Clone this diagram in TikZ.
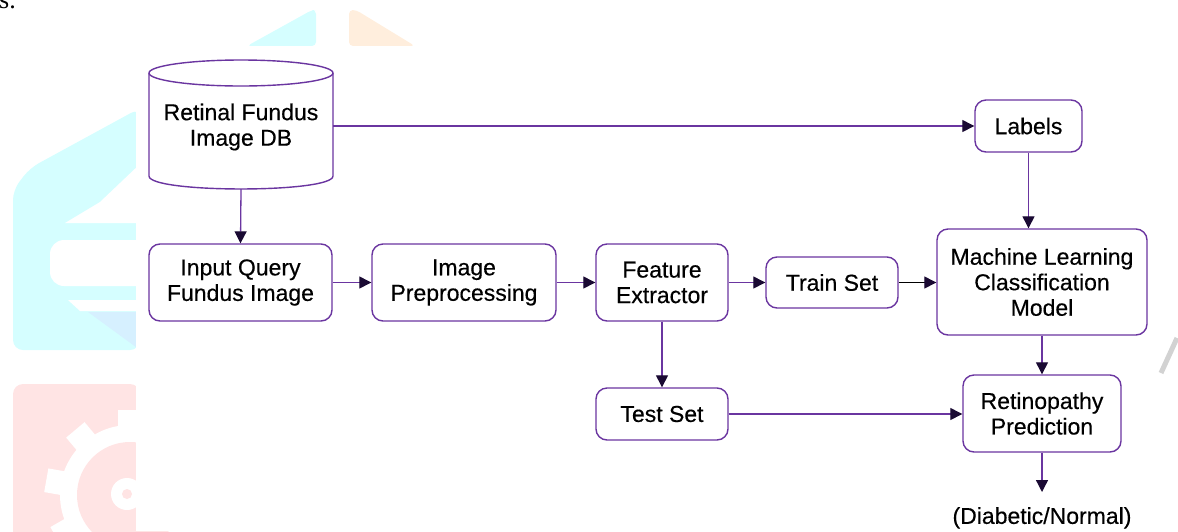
\documentclass[tikz,border=0pt]{standalone}
\usepackage{fontspec}
\setmainfont{Liberation Sans}[FakeBold=0.4]
\newfontfamily\serifface{Liberation Serif}
\usetikzlibrary{arrows.meta}
\definecolor{edgepurple}{HTML}{6A35A0}
\definecolor{tipdark}{HTML}{1A0A33}
\definecolor{wmcyan}{HTML}{D5FEFF}
\definecolor{wmblue}{HTML}{D6F0FF}
\definecolor{wmorange}{HTML}{FFEEDD}
\definecolor{wmpink}{HTML}{FFE4E4}
\begin{document}
\begin{tikzpicture}[x=1pt,y=-1pt,
  txt/.style={align=center, inner sep=0pt, font=\fontsize{23}{25.5}\selectfont},
  box/.style={txt, draw=edgepurple, line width=1.4pt, rounded corners=11pt, fill=white},
  flow/.style={draw=edgepurple, line width=1.3pt, -{Triangle[length=12pt,width=12pt,color=tipdark]}},
]
\useasboundingbox (0,0) rectangle (1178,531);

% faint logo shapes behind the page
\fill[wmcyan, rounded corners=4pt] (247,46) -- (312,10) -- (316,10) -- (316,46) -- cycle;
\fill[wmorange, rounded corners=4pt] (349,46) -- (349,10) -- (356,10) -- (415,46) -- cycle;
\fill[wmcyan, rounded corners=10pt] (13,350) -- (13,190) -- (30,168) -- (140,108) -- (140,350) -- cycle;
\fill[white] (65,223) -- (100,202) -- (140,164) -- (140,223) -- cycle;
\fill[white, rounded corners=14pt] (50,240) rectangle (170,286);
\fill[white] (68,300) -- (140,300) -- (140,311) -- (80,311) -- cycle;
\fill[wmblue] (88,312) -- (140,312) -- (140,350) -- cycle;
\fill[wmpink, rounded corners=10pt] (13,545) -- (13,384) -- (140,384) -- (140,545) -- cycle;
\fill[white] (130,495) circle[radius=70pt];
\foreach \a in {0,40,...,320}
  \fill[white, rotate around={\a:(130,495)}] (118,410) rectangle (142,440);
\fill[wmpink] (130,495) circle[radius=53pt];
\fill[white] (127,494) circle[radius=16pt];
\fill[wmpink] (127,494) circle[radius=5pt];

% page area of the figure
\fill[white] (136,46) rectangle (1178,531);
\draw[gray!35, line width=5pt] (1161,373) -- (1177,338);

% text fragment from the line above
\node[font=\serifface\fontsize{26}{26}\selectfont, anchor=base east, inner sep=0pt] (frag) at (16,8) {s.};

% database cylinder
\draw[edgepurple, line width=1.4pt, fill=white] (149,73) -- (149,176)
  .. controls (149,193.3) and (333,193.3) .. (333,176) -- (333,73);
\draw[edgepurple, line width=1.4pt, fill=white] (241,73) ellipse [x radius=92pt, y radius=13pt];
\node[txt, minimum width=184pt, minimum height=124pt] (db) at (241,127) {Retinal Fundus\\Image DB};

% process boxes
\node[box, minimum width=183pt, minimum height=77pt] (input) at (240.5,282.5) {Input Query\\Fundus Image};
\node[box, minimum width=184pt, minimum height=77pt] (prep) at (464,282.5) {Image\\Preprocessing};
\node[box, minimum width=132pt, minimum height=77pt] (feat) at (662,282.5) {Feature\\Extractor};
\node[box, minimum width=132pt, minimum height=51pt] (train) at (832,282.5) {Train Set};
\node[box, minimum width=132pt, minimum height=52pt] (test) at (662,414) {Test Set};
\node[box, minimum width=107pt, minimum height=52pt] (labels) at (1028.5,126) {Labels};
\node[box, minimum width=210pt, minimum height=106pt] (ml) at (1042,282) {Machine Learning\\Classification\\Model};
\node[box, minimum width=158pt, minimum height=77pt] (ret) at (1042,413.5) {Retinopathy\\Prediction};
\node[txt, anchor=north, inner ysep=15pt] (out) at (1042,492) {(Diabetic/Normal)};

% connectors
\draw[flow] (labels.west -| db.east) -- (labels.west);
\draw[flow] (db.south) -- (input.north);
\draw[flow] (input.east) -- (prep.west);
\draw[flow] (prep.east) -- (feat.west);
\draw[flow] (feat.east) -- (train.west);
\draw[flow, draw=black] (train.east) -- (train.east -| ml.west);
\draw[flow] (labels.south) -- (labels.south |- ml.north);
\draw[flow] (feat.south) -- (test.north);
\draw[flow] (test.east) -- (test.east -| ret.west);
\draw[flow] (ml.south) -- (ret.north);
\draw[flow] (ret.south) -- (out.north);
\end{tikzpicture}
\end{document}
